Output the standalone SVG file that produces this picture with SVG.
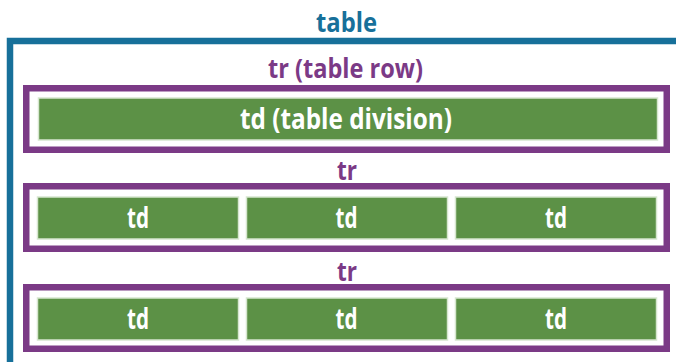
<svg xmlns="http://www.w3.org/2000/svg" width="676" height="362" viewBox="0 0 676 362">
<style>
.lbl{font-family:"Open Sans","Liberation Sans",sans-serif;font-weight:700;text-anchor:middle}
.tbl{fill:#17709a;font-size:26px}
.trl{fill:#7b3a86;font-size:26px}
.tdl{fill:#ffffff;font-size:28px}
.tr{fill:#ffffff;stroke:#7b3a86;stroke-width:6.5}
.td{fill:#5c9146;stroke:#d6e6cf;stroke-width:1.5}
</style>
<rect width="676" height="362" fill="#ffffff"/>
<g id="table">
<path d="M10,362 V41 H676" fill="none" stroke="#17709a" stroke-width="6.5"/>
<text class="lbl tbl" x="346.5" y="32" textLength="61" lengthAdjust="spacingAndGlyphs">table</text>
</g>
<g id="tr1">
<text class="lbl trl" x="345.5" y="78" textLength="155" lengthAdjust="spacingAndGlyphs">tr (table row)</text>
<rect class="tr" x="26.25" y="88.25" width="640.5" height="61.5"/>
</g>
<g id="td1">
<rect class="td" x="38.5" y="98" width="619" height="42"/>
<text class="lbl tdl" x="346" y="128.5" textLength="212" lengthAdjust="spacingAndGlyphs">td (table division)</text>
</g>
<g id="tr2">
<text class="lbl trl" x="347" y="180" textLength="20" lengthAdjust="spacingAndGlyphs">tr</text>
<rect class="tr" x="26.25" y="186.25" width="640.5" height="62.5"/>
</g>
<g id="td2a"><rect class="td" x="37.5" y="197" width="201" height="42"/><text class="lbl tdl" x="138" y="228" textLength="22" lengthAdjust="spacingAndGlyphs">td</text></g>
<g id="td2b"><rect class="td" x="246.5" y="197" width="201" height="42"/><text class="lbl tdl" x="346.5" y="228" textLength="22" lengthAdjust="spacingAndGlyphs">td</text></g>
<g id="td2c"><rect class="td" x="455.5" y="197" width="201" height="42"/><text class="lbl tdl" x="556" y="228" textLength="22" lengthAdjust="spacingAndGlyphs">td</text></g>
<g id="tr3">
<text class="lbl trl" x="347" y="281" textLength="20" lengthAdjust="spacingAndGlyphs">tr</text>
<rect class="tr" x="26.25" y="287.25" width="640.5" height="61.5"/>
</g>
<g id="td3a"><rect class="td" x="37.5" y="298" width="201" height="42"/><text class="lbl tdl" x="138" y="329" textLength="22" lengthAdjust="spacingAndGlyphs">td</text></g>
<g id="td3b"><rect class="td" x="246.5" y="298" width="201" height="42"/><text class="lbl tdl" x="346.5" y="329" textLength="22" lengthAdjust="spacingAndGlyphs">td</text></g>
<g id="td3c"><rect class="td" x="455.5" y="298" width="201" height="42"/><text class="lbl tdl" x="556" y="329" textLength="22" lengthAdjust="spacingAndGlyphs">td</text></g>
</svg>
